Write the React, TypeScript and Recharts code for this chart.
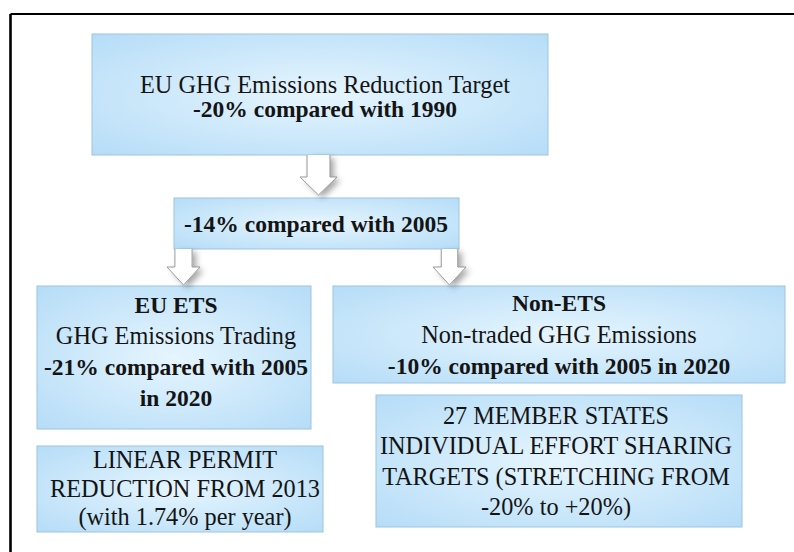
import React from "react";
import {
  ScatterChart,
  Scatter,
  XAxis,
  YAxis,
  ReferenceArea,
  ReferenceLine,
} from "recharts";

// ---- Text content (the diagram's "data") ----
const TARGET_LINES = ["EU GHG Emissions Reduction Target", "-20% compared with 1990"];
const TARGET_BOLD = [false, true];
const MID_LINES = ["-14% compared with 2005"];
const MID_BOLD = [true];
const ETS_LINES = ["EU ETS", "GHG Emissions Trading", "-21% compared with 2005", "in 2020"];
const ETS_BOLD = [true, false, true, true];
const NON_ETS_LINES = ["Non-ETS", "Non-traded GHG Emissions", "-10% compared with 2005 in 2020"];
const NON_ETS_BOLD = [true, false, true];
const LINEAR_LINES = ["LINEAR PERMIT", "REDUCTION FROM 2013", "(with 1.74% per year)"];
const LINEAR_BOLD = [false, false, false];
const MEMBER_LINES = [
  "27 MEMBER STATES",
  "INDIVIDUAL EFFORT SHARING",
  "TARGETS (STRETCHING FROM",
  "-20% to +20%)",
];
const MEMBER_BOLD = [false, false, false, false];

// ---- Layout (diagram coordinate space = 794 x 552) ----
const W = 794;
const H = 552;
const BOX_LAYOUT = [
  { key: "target", x1: 92, x2: 548, y1: 34, y2: 155, tx: 325, ty: 92.5, step: 24.5 },
  { key: "mid", x1: 174, x2: 459, y1: 198, y2: 249, tx: 316, ty: 232, step: 0 },
  { key: "ets", x1: 37, x2: 311, y1: 286, y2: 429, tx: 176, ty: 313, step: 31 },
  { key: "nonEts", x1: 333, x2: 785, y1: 286, y2: 383, tx: 559, ty: 311, step: 31.5 },
  { key: "linear", x1: 37, x2: 323, y1: 446, y2: 532, tx: 185, ty: 468, step: 28.5 },
  { key: "member", x1: 376, x2: 742, y1: 395, y2: 527, tx: 556, ty: 424, step: 30.3 },
];
const BOX_TEXT: Record<string, { lines: string[]; bold: boolean[] }> = {
  target: { lines: TARGET_LINES, bold: TARGET_BOLD },
  mid: { lines: MID_LINES, bold: MID_BOLD },
  ets: { lines: ETS_LINES, bold: ETS_BOLD },
  nonEts: { lines: NON_ETS_LINES, bold: NON_ETS_BOLD },
  linear: { lines: LINEAR_LINES, bold: LINEAR_BOLD },
  member: { lines: MEMBER_LINES, bold: MEMBER_BOLD },
};
const ARROWS = [
  { x1: 300, x2: 337, y1: 155, y2: 195, shaft: 0.62 },
  { x1: 167, x2: 200, y1: 249, y2: 285, shaft: 0.52 },
  { x1: 433, x2: 466, y1: 249, y2: 285, shaft: 0.5 },
];
const FRAME = { x: 10.5, y: 14 };

const textData = BOX_LAYOUT.flatMap((b) =>
  BOX_TEXT[b.key].lines.map((t, i) => ({
    x: b.tx,
    y: b.ty + i * b.step,
    text: t,
    bold: BOX_TEXT[b.key].bold[i],
  }))
);

const FONT = "'Liberation Serif', 'Times New Roman', serif";

const BoxShape = (props: any) => {
  const { x, y, width, height } = props;
  return (
    <rect
      x={x}
      y={y}
      width={width}
      height={height}
      fill="url(#boxGrad)"
      stroke="#9fc3e0"
      strokeWidth={1}
    />
  );
};

const makeArrowShape = (shaftRatio: number) => (props: any) => {
  const { x, y, width, height } = props;
  const cx = x + width / 2;
  const sw = (width * shaftRatio) / 2;
  const head = Math.min(18, height * 0.5);
  const hb = y + height - head;
  const tip = y + height;
  const pts = [
    [cx - sw, y],
    [cx - sw, hb],
    [x, hb],
    [cx, tip],
    [x + width, hb],
    [cx + sw, hb],
    [cx + sw, y],
  ];
  const d = pts.map((p, i) => `${i ? "L" : "M"}${p[0]},${p[1]}`).join(" ");
  return (
    <g>
      <path d={d + " Z"} fill="#ffffff" filter="url(#arrowShadow)" stroke="none" />
      <path d={d} fill="none" stroke="#9a9a9a" strokeWidth={1} />
    </g>
  );
};

const TextShape = (props: any) => {
  const { cx, cy, payload } = props;
  return (
    <text
      x={cx}
      y={cy}
      textAnchor="middle"
      fontFamily={FONT}
      fontSize={payload.bold ? 23.5 : 24.3}
      fontWeight={payload.bold ? 700 : 400}
      fill="#141414"
    >
      {payload.text}
    </text>
  );
};

export default function App() {
  return (
    <div style={{ position: "absolute", left: 0, top: 0, width: W, height: H, background: "#fff" }}>
      <ScatterChart width={W} height={H} margin={{ top: 0, right: 0, bottom: 0, left: 0 }}>
        <defs>
          <radialGradient id="boxGrad" cx="0.5" cy="0.5" r="0.75">
            <stop offset="0%" stopColor="#e6f5fe" />
            <stop offset="100%" stopColor="#b2dbf7" />
          </radialGradient>
          <filter id="arrowShadow" x="-50%" y="-50%" width="200%" height="200%">
            <feDropShadow dx="4" dy="3" stdDeviation="3" floodColor="#000" floodOpacity="0.35" />
          </filter>
        </defs>
        <XAxis type="number" dataKey="x" domain={[0, W]} hide allowDataOverflow />
        <YAxis type="number" dataKey="y" domain={[0, H]} hide reversed allowDataOverflow />
        <ReferenceLine
          segment={[{ x: FRAME.x, y: FRAME.y }, { x: W, y: FRAME.y }]}
          stroke="#000"
          strokeWidth={2.2}
          ifOverflow="visible"
        />
        <ReferenceLine
          segment={[{ x: FRAME.x, y: FRAME.y }, { x: FRAME.x, y: H }]}
          stroke="#000"
          strokeWidth={2.6}
          ifOverflow="visible"
        />
        {BOX_LAYOUT.map((b) => (
          <ReferenceArea
            key={b.key}
            x1={b.x1}
            x2={b.x2}
            y1={b.y1}
            y2={b.y2}
            ifOverflow="visible"
            shape={BoxShape}
          />
        ))}
        {ARROWS.map((a, i) => (
          <ReferenceArea
            key={"arrow" + i}
            x1={a.x1}
            x2={a.x2}
            y1={a.y1}
            y2={a.y2}
            ifOverflow="visible"
            shape={makeArrowShape(a.shaft)}
          />
        ))}
        <Scatter data={textData} shape={TextShape} isAnimationActive={false} />
      </ScatterChart>
    </div>
  );
}
